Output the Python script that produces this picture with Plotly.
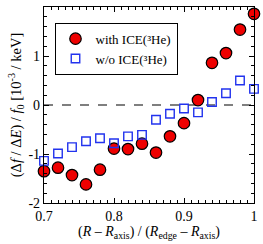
import plotly.graph_objects as go

x_vals = [0.70, 0.72, 0.74, 0.76, 0.78, 0.80, 0.82, 0.84, 0.86, 0.88, 0.90, 0.92, 0.94, 0.96, 0.98, 1.00]
with_ice = [-1.35, -1.28, -1.43, -1.62, -1.32, -0.89, -0.90, -0.79, -0.97, -0.64, -0.37, 0.10, 0.86, 1.06, 1.54, 1.86]
without_ice = [-1.14, -0.99, -0.86, -0.74, -0.68, -0.78, -0.64, -0.61, -0.30, -0.18, -0.07, -0.15, 0.06, 0.24, 0.50, 0.33]

font = "Liberation Serif, Times New Roman, serif"

fig = go.Figure()
fig.add_hline(y=0, line=dict(color="black", width=1.2, dash="dash"), layer="below")
fig.add_trace(go.Scatter(
    x=x_vals, y=with_ice, mode="markers", name="with ICE(³He)",
    marker=dict(symbol="circle", size=11.5, color="#ee0000", line=dict(color="black", width=1.2)),
    cliponaxis=False,
))
fig.add_trace(go.Scatter(
    x=x_vals, y=without_ice, mode="markers", name="w/o ICE(³He)",
    marker=dict(symbol="square-open", size=8.5, color="#2233ee", line=dict(width=1.4)),
    cliponaxis=False,
))

axis_common = dict(
    showline=True, linecolor="black", linewidth=1.2, mirror="allticks",
    ticks="inside", tickcolor="black", ticklen=5, tickwidth=1,
    showgrid=False, zeroline=False,
    tickfont=dict(family=font, size=14, color="black"),
)

fig.update_xaxes(
    range=[0.7, 1.0], tickvals=[0.7, 0.8, 0.9, 1.0], ticktext=["0.7", "0.8", "0.9", "1"],
    minor=dict(ticks="inside", ticklen=2.5, dtick=0.01, tickcolor="black"),
    title=dict(text="(<i>R</i> – <i>R</i><sub>axis</sub>) / (<i>R</i><sub>edge</sub> – <i>R</i><sub>axis</sub>)",
               font=dict(family=font, size=14, color="black"), standoff=2),
    **axis_common,
)
fig.update_yaxes(
    range=[-2, 2], tickvals=[-2, -1, 0, 1, 2], ticktext=["-2", "-1", "0", "1", "2"],
    minor=dict(ticks="inside", ticklen=2.5, dtick=0.2, tickcolor="black"),
    title=dict(text="(Δ<i>f</i> / Δ<i>E</i>) / <i>f</i><sub>0</sub> [10<sup>-3</sup> / keV]",
               font=dict(family=font, size=14.5, color="black"), standoff=3),
    **axis_common,
)

fig.update_layout(
    width=263, height=244,
    margin=dict(l=44, r=5, t=7, b=41),
    paper_bgcolor="white", plot_bgcolor="white",
    showlegend=True,
    legend=dict(
        x=0.05, y=0.92, xanchor="left", yanchor="top",
        bordercolor="black", borderwidth=1, bgcolor="white",
        font=dict(family=font, size=13, color="black"),
        itemwidth=30, tracegroupgap=0,
    ),
)

fig.write_html(
    "out.html",
    config={"displayModeBar": False},
    post_script="document.body.style.margin='0';document.body.style.padding='0';document.body.style.overflow='hidden';",
)
